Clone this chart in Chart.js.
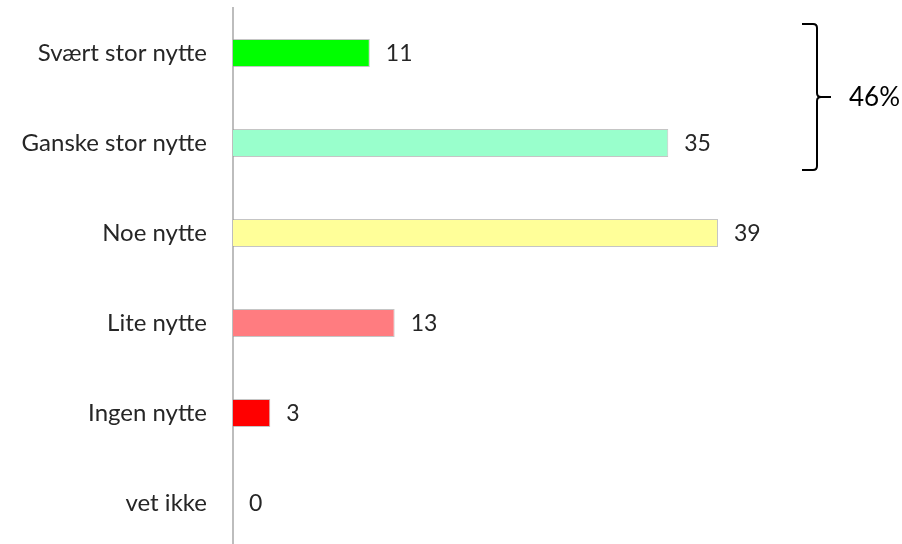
<!DOCTYPE html>
<html>
<head>
<meta charset="utf-8">
<script src="https://cdn.jsdelivr.net/npm/chart.js@4"></script>
<style>
  html, body { margin: 0; padding: 0; overflow: hidden; background: #fff; }
  #wrap { width: 902px; height: 552px; }
</style>
</head>
<body>
<div id="wrap"><canvas id="chart"></canvas></div>
<script>
// Categories and values
const categories = ['Svært stor nytte', 'Ganske stor nytte', 'Noe nytte', 'Lite nytte', 'Ingen nytte', 'vet ikke'];
const values = [11, 35, 39, 13, 3, 0];
const barColors = ['#00ff00', '#99ffcc', '#ffff99', '#ff7c80', '#ff0000', '#cccccc'];
const bracketLabel = '46%';
const bracketFrom = 0;
const bracketTo = 1;

const FONT = 'Lato, "Open Sans", sans-serif';

// Value labels next to each bar
const valueLabels = {
    id: 'valueLabels',
    afterDatasetsDraw(chart) {
        const ctx = chart.ctx;
        const meta = chart.getDatasetMeta(0);
        ctx.save();
        ctx.font = '23px ' + FONT;
        ctx.fillStyle = '#262626';
        ctx.textBaseline = 'middle';
        meta.data.forEach((bar, i) => {
            ctx.fillText(String(values[i]), bar.x + 16, bar.y + 1);
        });
        ctx.restore();
    }
};

// Bracket with percentage on the right
const bracket = {
    id: 'bracket',
    afterDraw(chart) {
        const ctx = chart.ctx;
        const y = chart.scales.y;
        const right = chart.chartArea.right;
        const top = y.getPixelForValue(bracketFrom) - 29;
        const bottom = y.getPixelForValue(bracketTo) + 27;
        const mid = (top + bottom) / 2;
        const x0 = right + 84, x1 = right + 99, x2 = right + 113;
        ctx.save();
        ctx.strokeStyle = '#000';
        ctx.lineWidth = 2;
        ctx.beginPath();
        ctx.moveTo(x0, top);
        ctx.lineTo(x1 - 4, top);
        ctx.quadraticCurveTo(x1, top, x1, top + 4);
        ctx.lineTo(x1, mid - 4);
        ctx.quadraticCurveTo(x1, mid, x1 + 4, mid);
        ctx.lineTo(x2, mid);
        ctx.moveTo(x1 + 4, mid);
        ctx.quadraticCurveTo(x1, mid, x1, mid + 4);
        ctx.lineTo(x1, bottom - 4);
        ctx.quadraticCurveTo(x1, bottom, x1 - 4, bottom);
        ctx.lineTo(x0, bottom);
        ctx.stroke();
        ctx.font = '26px ' + FONT;
        ctx.fillStyle = '#000';
        ctx.textBaseline = 'middle';
        ctx.fillText(bracketLabel, right + 131, mid + 1);
        ctx.restore();
    }
};

new Chart(document.getElementById('chart'), {
    type: 'bar',
    data: {
        labels: categories,
        datasets: [{
            data: values,
            backgroundColor: barColors,
            borderColor: 'rgba(150,150,150,0.55)',
            borderWidth: 1,
            categoryPercentage: 1,
            barPercentage: 0.31
        }]
    },
    options: {
        indexAxis: 'y',
        responsive: true,
        maintainAspectRatio: false,
        animation: false,
        layout: { padding: { top: 8, bottom: 4, left: 0, right: 184 } },
        plugins: {
            legend: { display: false },
            tooltip: { enabled: false }
        },
        scales: {
            x: {
                display: false,
                min: 0,
                max: 39
            },
            y: {
                grid: { display: false, drawTicks: false },
                border: { display: true, color: '#bdbdbd', width: 2 },
                ticks: {
                    color: '#262626',
                    padding: 26,
                    font: { family: FONT, size: 24 }
                },
                afterFit(scale) {
                    scale.width = 233;
                    scale.paddingTop = 0;
                    scale.paddingBottom = 0;
                }
            }
        }
    },
    plugins: [valueLabels, bracket]
});
</script>
</body>
</html>
